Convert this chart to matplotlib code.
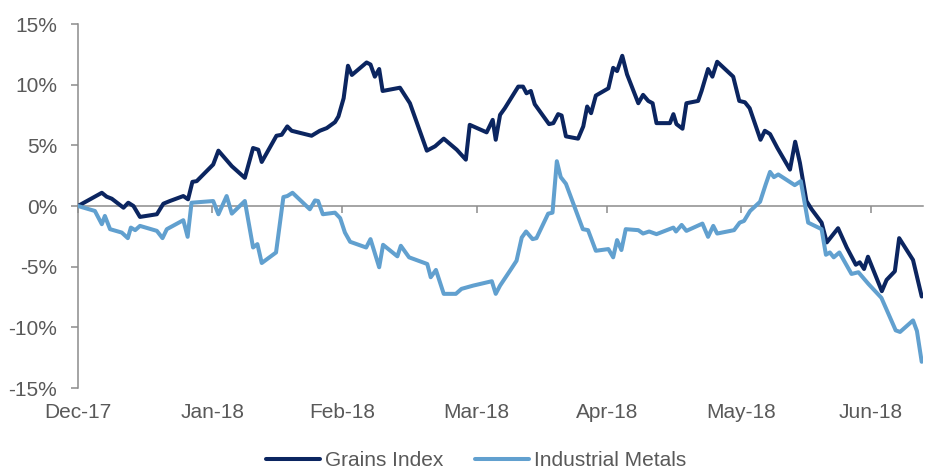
import matplotlib
matplotlib.use("Agg")
import matplotlib.pyplot as plt
from matplotlib.ticker import FuncFormatter

# ---- data (x = days since start of series, y = cumulative % change) ----
grains_day = [0.0, 5.5, 6.6, 7.8, 10.5, 11.6, 12.8, 14.3, 18.2, 19.7, 21.2, 24.3, 25.4, 26.4, 27.4,
              31.2, 32.4, 35.5, 38.5, 40.4, 41.6, 42.4, 45.8, 47.0, 48.3, 49.3, 53.9, 55.8, 57.4,
              59.3, 60.1, 61.3, 62.3, 63.2, 66.6, 67.5, 68.5, 69.5, 70.3, 74.3, 76.6, 80.5, 82.4,
              84.4, 87.4, 89.5, 90.4, 94.3, 95.7, 96.4, 97.4, 98.5, 101.6, 102.7, 103.5, 104.5,
              105.4, 108.7, 109.7, 110.8, 111.6, 112.6, 115.4, 116.6, 117.5, 118.4, 119.5, 122.4,
              123.5, 124.4, 125.6, 126.7, 129.3, 130.4, 131.6, 132.6, 133.5, 136.6, 137.4, 138.1,
              139.5, 140.4, 143.1, 143.9, 145.4, 146.4, 147.5, 151.2, 152.6, 153.9, 155.0, 157.5,
              158.5, 159.7, 161.4, 164.3, 165.5, 166.6, 168.1, 169.3, 171.6, 172.8, 175.4, 177.4,
              179.5, 180.4, 181.4, 182.3, 185.5, 186.6, 188.5, 189.5, 192.7, 194.7]
grains_pct = [0.0, 1.09, 0.77, 0.6, -0.14, 0.27, 0.0, -0.9, -0.68, 0.19, 0.41, 0.82, 0.55, 1.99, 2.05,
              3.42, 4.56, 3.28, 2.32, 4.78, 4.64, 3.63, 5.79, 5.87, 6.56, 6.2, 5.79, 6.2, 6.42,
              6.91, 7.38, 8.88, 11.56, 10.8, 11.83, 11.66, 10.66, 11.29, 9.48, 9.75, 8.47, 4.56, 4.92,
              5.55, 4.64, 3.82, 6.69, 6.07, 7.1, 5.46, 7.51, 8.06, 9.84, 9.84, 9.29, 9.48,
              8.39, 6.75, 6.83, 7.57, 7.46, 5.74, 5.55, 6.56, 8.2, 7.65, 9.1, 9.7,
              11.39, 11.12, 12.38, 10.85, 8.47, 9.16, 8.66, 8.47, 6.83, 6.83, 7.57, 6.75,
              6.37, 8.47, 8.66, 9.48, 11.29, 10.66, 11.89, 10.66, 8.66, 8.55, 8.06, 5.46,
              6.2, 5.93, 4.78, 3.0, 5.3, 3.55, 0.41, -0.27, -1.37, -3.0, -1.83, -3.42,
              -4.84, -4.64, -5.19, -4.18, -7.02, -6.09, -5.38, -2.65, -4.45, -7.46]

metals_day = [0.0, 3.9, 5.5, 6.2, 7.4, 10.1, 11.5, 12.2, 13.2, 14.3, 18.2, 19.5, 20.5, 24.3, 25.3,
              26.2, 31.2, 32.4, 34.3, 35.5, 38.5, 40.4, 41.4, 42.4, 45.7, 47.4, 48.3, 49.5, 53.5,
              54.7, 55.4, 56.5, 59.3, 60.5, 61.6, 62.8, 66.5, 67.5, 69.5, 70.4, 73.7, 74.5, 76.4,
              80.6, 81.4, 82.6, 84.4, 87.2, 88.5, 91.2, 95.5, 96.4, 97.4, 99.7, 101.2, 102.4,
              103.4, 104.9, 105.8, 108.5, 109.5, 110.5, 111.4, 112.6, 116.5, 117.7, 119.5, 122.4,
              123.5, 124.4, 125.4, 126.4, 129.3, 130.4, 131.8, 133.5, 137.4, 138.0, 139.3, 140.4,
              144.1, 145.4, 146.6, 147.5, 151.4, 152.7, 153.7, 155.1, 157.4, 158.7, 159.7, 160.6,
              161.6, 165.4, 166.8, 168.5, 171.6, 172.6, 173.5, 174.4, 175.7, 178.5, 180.1, 182.4,
              185.4, 188.7, 189.7, 192.7, 193.6, 194.7]
metals_pct = [0.0, -0.41, -1.5, -0.82, -1.91, -2.19, -2.65, -1.78, -1.99, -1.64, -2.05, -2.65, -1.91, -1.17, -2.54,
              0.27, 0.41, -0.68, 0.82, -0.63, 0.41, -3.42, -3.14, -4.7, -3.83, 0.74, 0.82, 1.09, -0.27,
              0.46, 0.41, -0.68, -0.55, -1.0, -2.19, -2.95, -3.42, -2.73, -5.05, -3.2, -4.15, -3.28, -4.23,
              -4.78, -5.87, -5.27, -7.24, -7.24, -6.83, -6.56, -6.2, -7.24, -6.56, -5.33, -4.51, -2.6,
              -2.1, -2.73, -2.65, -0.63, -0.55, 3.69, 2.38, 1.83, -1.91, -1.99, -3.69, -3.55,
              -4.23, -2.81, -3.63, -1.91, -1.99, -2.27, -2.1, -2.32, -1.78, -2.1, -1.56, -2.05,
              -1.45, -2.54, -1.64, -2.27, -1.99, -1.37, -1.23, -0.41, 0.35, 1.78, 2.81, 2.38,
              2.6, 1.72, 2.05, -1.37, -1.91, -4.02, -3.83, -4.23, -3.83, -5.6, -5.46, -6.42,
              -7.57, -10.25, -10.38, -9.43, -10.3, -12.84]

tick_labels = ["Dec-17", "Jan-18", "Feb-18", "Mar-18", "Apr-18", "May-18", "Jun-18"]
tick_days = [0, 31, 61, 92, 122, 153, 183]
series_names = ["Grains Index", "Industrial Metals"]

# ---- style ----
plt.rcParams['font.family'] = ['Liberation Sans', 'DejaVu Sans']
text_c = "#595959"
axis_c = "#8c8c8c"
W, H = 931, 470

fig = plt.figure(figsize=(W / 100, H / 100), dpi=100)
ax = fig.add_axes([78 / W, 1 - 388 / H, (923 - 78) / W, (388 - 24) / H])

ax.plot(grains_day, grains_pct, color="#0b2560", lw=2.9, solid_joinstyle="round",
        solid_capstyle="round", label=series_names[0], zorder=3)
ax.plot(metals_day, metals_pct, color="#61a0cf", lw=2.9, solid_joinstyle="round",
        solid_capstyle="round", label=series_names[1], zorder=4)

ax.set_xlim(0, 195)
ax.set_ylim(-15, 15)
ax.set_yticks(range(-15, 16, 5))
ax.yaxis.set_major_formatter(FuncFormatter(lambda v, p: f"{v:.0f}%"))

for s in ["top", "right"]:
    ax.spines[s].set_visible(False)
ax.spines["bottom"].set_position(("data", 0))
for s in ["left", "bottom"]:
    ax.spines[s].set_color(axis_c)
    ax.spines[s].set_linewidth(1.1)
    ax.spines[s].set_zorder(1)

ax.set_xticks(tick_days)
ax.tick_params(axis="x", direction="out", length=5, width=1.1, color=axis_c, labelbottom=False)
ax.tick_params(axis="y", direction="out", length=5, width=1.1, color=axis_c,
               labelsize=15, labelcolor=text_c, pad=10)

sec = ax.secondary_xaxis("bottom")
sec.set_xticks(tick_days, tick_labels)
sec.spines["bottom"].set_visible(False)
sec.tick_params(axis="x", length=0, labelsize=15, labelcolor=text_c, pad=11)

fig.legend(loc="center", bbox_to_anchor=(476 / W, 1 - 460.5 / H), ncol=2, frameon=False,
           fontsize=15, labelcolor=text_c, handlelength=2.6, handletextpad=0.25,
           columnspacing=1.5, borderaxespad=0, borderpad=0)

fig.savefig("out.png", dpi=100)
